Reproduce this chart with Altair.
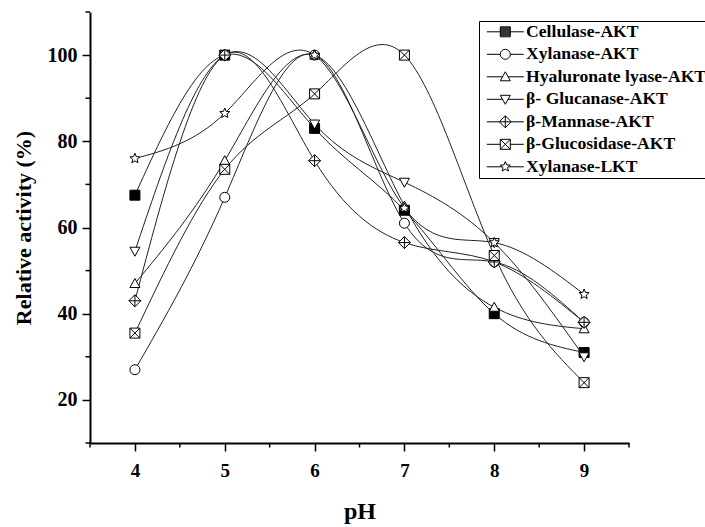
import math
import altair as alt
import pandas as pd

# ---------------- data ----------------
ph = [4, 5, 6, 7, 8, 9]
series_names = [
    "Cellulase-AKT",
    "Xylanase-AKT",
    "Hyaluronate lyase-AKT",
    "β- Glucanase-AKT",
    "β-Mannase-AKT",
    "β-Glucosidase-AKT",
    "Xylanase-LKT",
]
cellulase_akt = [67.5, 100, 83, 64, 40, 31]
xylanase_akt = [27, 67, 100, 61, 52, 38]
hyaluronate_lyase_akt = [47, 75.5, 100, 65, 41.5, 36.5]
glucanase_akt = [54.5, 100, 84, 70.5, 56.5, 30]
mannase_akt = [43, 100, 75.5, 56.5, 52, 38]
glucosidase_akt = [35.5, 73.5, 91, 100, 53.5, 24]
xylanase_lkt = [76, 86.5, 100, 64.5, 56.5, 44.5]

y_major_ticks = [20, 40, 60, 80, 100]
y_minor_ticks = [10, 30, 50, 70, 90, 110]
x_minor_ticks = [3.5, 4.5, 5.5, 6.5, 7.5, 8.5, 9.5]

all_values = [cellulase_akt, xylanase_akt, hyaluronate_lyase_akt, glucanase_akt,
              mannase_akt, glucosidase_akt, xylanase_lkt]

rows = []
for name, vals in zip(series_names, all_values):
    for p, v in zip(ph, vals):
        rows.append({"pH": p, "activity": v, "series": name})
df = pd.DataFrame(rows)

# ---------------- marker shapes ----------------
def star_path(r_out=1.05, r_in=0.47):
    pts = []
    for k in range(10):
        ang = math.radians(-90 + 36 * k)
        r = r_out if k % 2 == 0 else r_in
        pts.append((r * math.cos(ang), r * math.sin(ang)))
    return "M" + "L".join(f"{x:.3f},{y:.3f}" for x, y in pts) + "Z"

square = "M-1,-1H1V1H-1Z"
circle = "M1,0A1,1,0,1,1,-1,0A1,1,0,1,1,1,0Z"
tri_up = "M0,-1L1,0.8L-1,0.8Z"
tri_down = "M0,1L1,-0.8L-1,-0.8Z"
diamond_plus = "M0,-1.2L1.2,0L0,1.2L-1.2,0Z M0,-1.2V1.2 M-1.2,0H1.2"
box_x = "M-1,-1H1V1H-1Z M-1,-1L1,1 M-1,1L1,-1"
star = star_path()

marker_paths = [square, circle, tri_up, tri_down, diamond_plus, box_x, star]
fills = ["black", "white", "white", "white", "white", "white", "white"]

# legend symbols: marker + line stubs (solid square drawn as dense strokes)
solid_square = square + "".join(f" M-1,{y / 10:.1f}H1" for y in range(-8, 9, 2))
legend_markers = [solid_square, circle, tri_up, tri_down, diamond_plus, box_x, star]
inner_edge = [1, 1, 0.56, 0.56, 1.2, 1, 0.62]
L = 3.7
legend_paths = [p + f" M-{L},0H-{e} M{e},0H{L}" for p, e in zip(legend_markers, inner_edge)]

font = "Liberation Serif"
W, H = 539, 431

x_scale = alt.Scale(domain=[3.5, 9.5], nice=False, zero=False)
y_scale = alt.Scale(domain=[10, 110], nice=False, zero=False)

x_axis = alt.Axis(
    values=ph, format="d", tickSize=8, tickWidth=1.5, tickColor="black",
    domainWidth=2, domainColor="black", grid=False,
    labelFont=font, labelFontSize=19, labelFontWeight="bold", labelColor="black",
    labelPadding=10, title="pH", titleFont=font, titleFontSize=24,
    titleFontWeight="bold", titleColor="black", titlePadding=19,
)
y_axis = alt.Axis(
    values=y_major_ticks, format="d", tickSize=8, tickWidth=1.5, tickColor="black",
    domainWidth=2, domainColor="black", grid=False,
    labelFont=font, labelFontSize=20, labelFontWeight="bold", labelColor="black",
    labelPadding=5, title="Relative activity (%)", titleFont=font, titleFontSize=22,
    titleFontWeight="bold", titleColor="black", titlePadding=12,
)

lines = alt.Chart(df).mark_line(interpolate="natural", color="#222222", strokeWidth=1).encode(
    x=alt.X("pH:Q", scale=x_scale, axis=x_axis),
    y=alt.Y("activity:Q", scale=y_scale, axis=y_axis),
    detail="series:N",
)

points = alt.Chart(df).mark_point(filled=True, stroke="black", strokeWidth=1, size=100, opacity=1).encode(
    x=alt.X("pH:Q", scale=x_scale, axis=x_axis),
    y=alt.Y("activity:Q", scale=y_scale, axis=y_axis),
    shape=alt.Shape("series:N", scale=alt.Scale(domain=series_names, range=marker_paths), legend=None),
    fill=alt.Fill("series:N", scale=alt.Scale(domain=series_names, range=fills), legend=None),
)

legend = alt.Legend(
    title=None, orient="none", legendX=389, legendY=9,
    strokeColor="black", fillColor="white", padding=2,
    symbolOffset=15.5, labelOffset=12, symbolSize=100,
    symbolStrokeWidth=1, symbolOpacity=1,
    labelFont=font, labelFontSize=17.6, labelFontWeight="bold", labelColor="black",
    labelLimit=400, rowPadding=3.5,
)

# legend-only layer: its rows are filtered away, the legend comes from the scale domain
legend_layer = alt.Chart(df).transform_filter("false").mark_point(
    filled=False, color="black", strokeWidth=1, size=100
).encode(
    x=alt.X("pH:Q", scale=x_scale, axis=x_axis),
    y=alt.Y("activity:Q", scale=y_scale, axis=y_axis),
    shape=alt.Shape("series:N", scale=alt.Scale(domain=series_names, range=legend_paths), legend=legend),
)

y_minor_df = pd.DataFrame({"activity": y_minor_ticks})
y_minor = alt.Chart(y_minor_df).mark_rule(color="black", strokeWidth=1.5).encode(
    y=alt.Y("activity:Q", scale=y_scale, axis=y_axis),
    x=alt.value(0), x2=alt.value(-4.5),
)
x_minor_df = pd.DataFrame({"pH": x_minor_ticks})
x_minor = alt.Chart(x_minor_df).mark_rule(color="black", strokeWidth=1.5).encode(
    x=alt.X("pH:Q", scale=x_scale, axis=x_axis),
    y=alt.value(H), y2=alt.value(H + 4.5),
)

chart = alt.layer(lines, points, legend_layer, y_minor, x_minor).resolve_scale(
    shape="independent", fill="independent"
).properties(
    width=W, height=H,
    autosize=alt.AutoSizeParams(type="none"),
    padding={"left": 90, "top": 12, "right": 76, "bottom": 84},
    background="white",
).configure_view(stroke=None)

chart.save("out.html", embed_options={"renderer": "svg", "actions": False})
